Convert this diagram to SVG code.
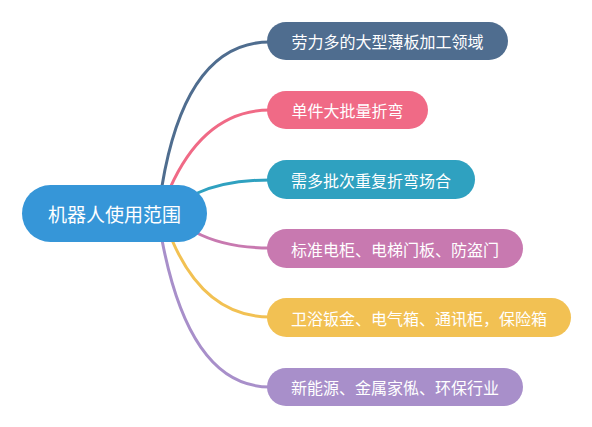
<svg xmlns="http://www.w3.org/2000/svg" width="592" height="427" viewBox="0 0 592 427">
<style>
.t{font-family:"Noto Sans CJK SC","Microsoft YaHei",sans-serif;fill:#fff;text-anchor:middle;dominant-baseline:central}
.c{font-size:16px}
.r{font-size:19px}
.l{fill:none;stroke-width:3;stroke-linecap:round}
</style>
<rect width="592" height="427" fill="#fff"/>
<g id="connectors">
<path class="l" stroke="#4f6d8f" d="M162,186 Q186,42 270,42"/>
<path class="l" stroke="#f06a86" d="M170,188 Q205,110 270,110"/>
<path class="l" stroke="#2fa1c0" d="M195,194 Q225,180 270,180"/>
<path class="l" stroke="#c879b0" d="M195,232 Q225,248 270,248"/>
<path class="l" stroke="#f2c153" d="M172,240 Q205,317 270,317"/>
<path class="l" stroke="#a88fca" d="M162,240 Q190,387 270,387"/>
</g>
<g id="root">
<rect x="22" y="185" width="185" height="57" rx="28.5" fill="#3696d8"/>
<text class="t r" x="114.5" y="213.5">机器人使用范围</text>
</g>
<g id="n1">
<rect x="267" y="22" width="241" height="38" rx="19" fill="#4f6d8f"/>
<text class="t c" x="387.5" y="41">劳力多的大型薄板加工领域</text>
</g>
<g id="n2">
<rect x="267" y="91" width="161" height="38" rx="19" fill="#f06a86"/>
<text class="t c" x="347.5" y="110">单件大批量折弯</text>
</g>
<g id="n3">
<rect x="267" y="160" width="208" height="39" rx="19.5" fill="#2fa1c0"/>
<text class="t c" x="371" y="179.5">需多批次重复折弯场合</text>
</g>
<g id="n4">
<rect x="267" y="229" width="256" height="39" rx="19.5" fill="#c879b0"/>
<text class="t c" x="395" y="248.5">标准电柜、电梯门板、防盗门</text>
</g>
<g id="n5">
<rect x="267" y="298" width="304" height="39" rx="19.5" fill="#f2c153"/>
<text class="t c" x="419" y="317.5">卫浴钣金、电气箱、通讯柜，保险箱</text>
</g>
<g id="n6">
<rect x="267" y="368" width="256" height="38" rx="19" fill="#a88fca"/>
<text class="t c" x="395" y="387">新能源、金属家俬、环保行业</text>
</g>
</svg>
